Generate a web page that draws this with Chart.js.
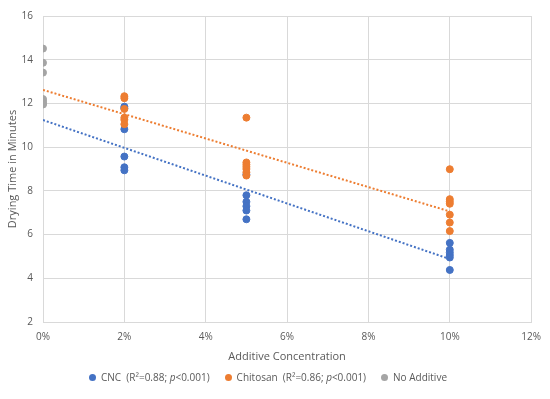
<!DOCTYPE html>
<html>
<head>
<meta charset="utf-8">
<script src="https://cdn.jsdelivr.net/npm/chart.js@4.4.0/dist/chart.umd.min.js"></script>
<style>
  body { margin: 0; background: #fff; }
  #box { position: relative; width: 550px; height: 399px; }
  #legenda { position: absolute; left: 89px; top: 370px; font: 10px "Open Sans", sans-serif; color: #595959; display: flex; white-space: pre; }
  #legenda span.voce { display: flex; align-items: center; margin-right: 15px; }
  #legenda span.pallino { width: 7px; height: 7px; border-radius: 50%; display: inline-block; margin-right: 5px; }
</style>
</head>
<body>
<div id="box">
  <canvas id="graficoAsciugatura" width="550" height="399"></canvas>
  <div id="legenda">
    <span class="voce"><span class="pallino" style="background:#4472C4"></span><span>CNC  (R²=0.88; <i>p</i>&lt;0.001)</span></span>
    <span class="voce"><span class="pallino" style="background:#ED7D31"></span><span>Chitosan  (R²=0.86; <i>p</i>&lt;0.001)</span></span>
    <span class="voce"><span class="pallino" style="background:#A5A5A5"></span><span>No Additive</span></span>
  </div>
</div>
<script>
// concentrazioni (frazione) e tempi di asciugatura
const cncX = [0.02, 0.02, 0.02, 0.02, 0.02, 0.02, 0.05, 0.05, 0.05, 0.05, 0.05, 0.05, 0.10, 0.10, 0.10, 0.10, 0.10, 0.10];
const cncY = [11.85, 11.78, 10.82, 9.57, 9.08, 8.94, 8.75, 7.8, 7.5, 7.3, 7.1, 6.7, 5.62, 5.31, 5.18, 5.06, 4.95, 4.38];

const chitosanX = [0.02, 0.02, 0.02, 0.02, 0.02, 0.02, 0.05, 0.05, 0.05, 0.05, 0.05, 0.05, 0.05, 0.10, 0.10, 0.10, 0.10, 0.10, 0.10, 0.10];
const chitosanY = [12.33, 12.24, 11.75, 11.35, 11.25, 11.05, 11.35, 9.3, 9.2, 9.1, 9.0, 8.85, 8.7, 8.99, 7.62, 7.51, 7.41, 6.91, 6.55, 6.16];

const noAddX = [0, 0, 0, 0, 0, 0, 0];
const noAddY = [14.51, 13.86, 13.41, 12.2, 12.1, 12.0, 11.95];

// linee di tendenza (estremi letti)
const trendX = [0, 0.10];
const cncTrendY = [11.24, 4.88];
const chitosanTrendY = [12.62, 7.06];

const xTicks = [0, 0.02, 0.04, 0.06, 0.08, 0.10, 0.12];

const punti = (xs, ys) => xs.map((x, i) => ({ x: x, y: ys[i] }));

const grigio = '#595959';
const griglia = '#D9D9D9';
const font = { family: '"Open Sans", sans-serif', size: 10 };

new Chart(document.getElementById('graficoAsciugatura').getContext('2d'), {
    type: 'scatter',
    data: {
        datasets: [
            {
                label: 'CNC',
                data: punti(cncX, cncY),
                backgroundColor: '#4472C4',
                borderColor: '#4472C4',
                pointRadius: 3.5,
                order: 2
            },
            {
                label: 'Chitosan',
                data: punti(chitosanX, chitosanY),
                backgroundColor: '#ED7D31',
                borderColor: '#ED7D31',
                pointRadius: 3.5,
                order: 1
            },
            {
                label: 'No Additive',
                data: punti(noAddX, noAddY),
                backgroundColor: '#A5A5A5',
                borderColor: '#A5A5A5',
                pointRadius: 3.5,
                order: 3
            },
            {
                label: 'trend CNC',
                type: 'line',
                data: punti(trendX, cncTrendY),
                borderColor: '#4472C4',
                borderWidth: 2,
                borderDash: [2, 2],
                pointRadius: 0,
                fill: false,
                order: 0
            },
            {
                label: 'trend Chitosan',
                type: 'line',
                data: punti(trendX, chitosanTrendY),
                borderColor: '#ED7D31',
                borderWidth: 2,
                borderDash: [2, 2],
                pointRadius: 0,
                fill: false,
                order: 0
            }
        ]
    },
    options: {
        responsive: false,
        animation: false,
        layout: { padding: { left: 2, right: 13, top: 12, bottom: 36 } },
        plugins: {
            legend: { display: false },
            tooltip: { enabled: false }
        },
        scales: {
            x: {
                type: 'linear',
                min: 0,
                max: 0.12,
                afterBuildTicks: (asse) => { asse.ticks = xTicks.map(v => ({ value: v })); },
                afterFit: (asse) => { asse.height = 41; },
                grid: { color: griglia, drawTicks: false },
                border: { color: griglia },
                ticks: {
                    color: grigio,
                    font: font,
                    padding: 9,
                    callback: (v) => Math.round(v * 100) + '%'
                },
                title: {
                    display: true,
                    text: 'Additive Concentration',
                    color: grigio,
                    font: { family: '"Open Sans", sans-serif', size: 11 },
                    padding: { top: 0, bottom: 0 }
                }
            },
            y: {
                min: 2,
                max: 16,
                afterFit: (asse) => { asse.width = 41; },
                grid: { color: griglia, drawTicks: false },
                border: { color: griglia },
                ticks: {
                    stepSize: 2,
                    color: grigio,
                    font: font,
                    padding: 10
                },
                title: {
                    display: true,
                    text: 'Drying Time in Minutes',
                    color: grigio,
                    font: { family: '"Open Sans", sans-serif', size: 11 },
                    padding: { top: 4, bottom: 0 }
                }
            }
        }
    }
});
</script>
</body>
</html>
